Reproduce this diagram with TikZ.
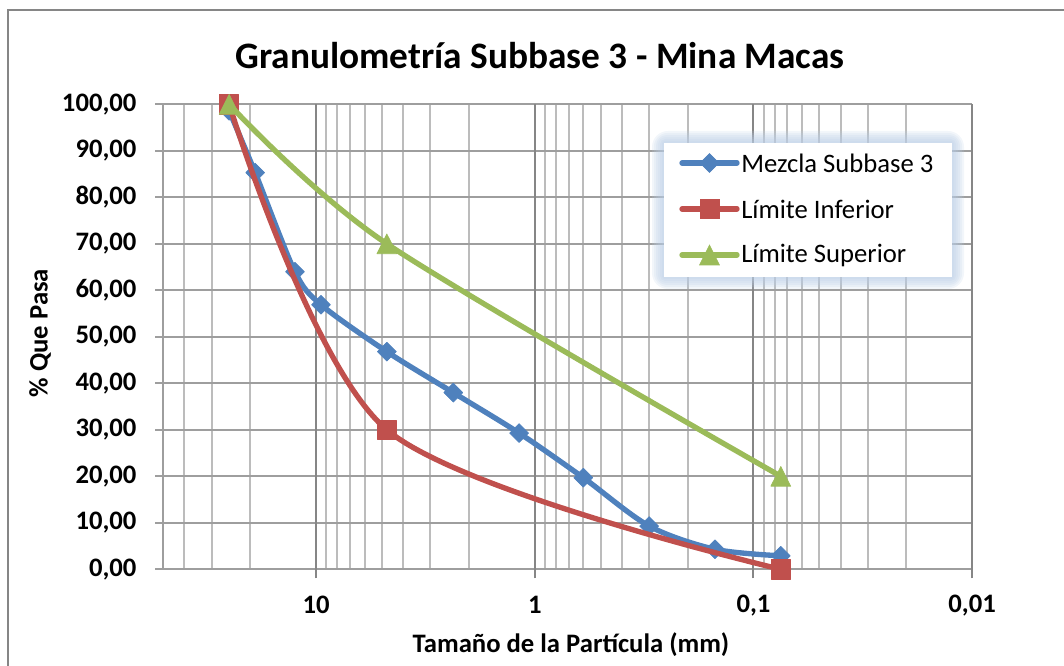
\documentclass[tikz,border=0pt]{standalone}
\usepackage{fontspec}
\setmainfont{Carlito}
\usetikzlibrary{positioning,plotmarks}

\definecolor{azulserie}{RGB}{79,129,189}
\definecolor{rojoserie}{RGB}{192,80,77}
\definecolor{verdeserie}{RGB}{155,187,89}
\definecolor{rejmenor}{RGB}{188,188,188}
\definecolor{rejmayor}{RGB}{134,134,134}
\definecolor{rejhoriz}{RGB}{158,158,158}
\definecolor{brillo}{RGB}{185,205,229}

\tikzset{
  menor/.style={draw=rejmenor, line width=1.5pt},
  mayor/.style={draw=rejmayor, line width=1.5pt},
  horiz/.style={draw=rejhoriz, line width=1.5pt},
  serie/.style={line width=4pt, line cap=round, line join=round},
  etiqueta/.style={font=\fontsize{20}{24}\selectfont\bfseries, inner sep=0pt},
  leyenda/.style={font=\fontsize{20}{24}\selectfont, inner sep=0pt},
  rombo/.style={mark=square*, mark size=5pt, mark options={rotate=45, fill=azulserie, draw=azulserie, line width=0.5pt}},
  cuadro/.style={mark=square*, mark size=7.2pt, mark options={fill=rojoserie, draw=rojoserie, line width=0.5pt}},
  triang/.style={mark=triangle*, mark size=8.6pt, mark options={yshift=-2.5pt, yscale=1.15, fill=verdeserie, draw=verdeserie, line width=0.5pt}}
}

\begin{document}
\begin{tikzpicture}[x=0.75pt, y=-0.75pt]
\useasboundingbox (0,0) rectangle (1064,666);
\clip (0,0) rectangle (1064,666);
% marco
\draw[mayor] (8,10) rectangle (1080,690);
\node[etiqueta, font=\fontsize{28}{32}\selectfont\bfseries] (titulo) at (540,56) {Granulometría Subbase 3 - Mina Macas};

% area del grafico: x = log10(50/d), y = % que pasa
\begin{scope}[shift={(163.3,569.3)}, x=164pt, y=3.4875pt]
  % rejilla
  \foreach \m in {2,3,4}
    \draw[menor] ({log10(50/(\m*10))},0) -- ++(0,100);
  \foreach \s in {1,0.1,0.01}
    \foreach \m in {2,...,9}
      \draw[menor] ({log10(50/(\m*\s))},0) -- ++(0,100);
  \foreach \p in {0,10,...,100} {
    \draw[horiz] (-0.0366,\p) -- (3.699,\p);
    \node[etiqueta, anchor=east] (y\p) at (-0.1216,\p) {\p,00};
  }
  \draw[horiz] (0,0) -- (0,100);
  \foreach \s/\t/\n in {10/10/a, 1/1/b, 0.1/{0,1}/c, 0.01/{0,01}/d} {
    \draw[mayor] ({log10(50/\s)},-1.94) -- ++(0,101.94);
    \node[etiqueta] (x\n) at ({log10(50/\s)},-7.74) {\t};
  }

  % curvas
  \draw[serie, azulserie] plot[smooth, tension=0.5, rombo] coordinates {
    (0.30103,98.6) (0.42022,85.3) (0.60206,64.0) (0.72125,56.9) (1.02228,46.8)
    (1.32604,38.0) (1.62709,29.3) (1.92082,19.7) (2.22185,9.3) (2.52288,4.3) (2.82391,2.9)};
  \draw[serie, rojoserie] plot[smooth, tension=0.5, cuadro] coordinates {
    (0.30103,100) (1.02228,30) (2.82391,0)};
  \draw[serie, verdeserie] plot[smooth, tension=0.5, triang] coordinates {
    (0.30103,100) (1.02228,70) (2.82391,20)};
\end{scope}

% leyenda
\foreach \g in {12,10,...,2}
  \fill[brillo, opacity=0.18, rounded corners=\g pt] ({664-\g},{143-\g}) rectangle ({952+\g},{277+\g});
\fill[white] (664,143) rectangle (952,277);
\draw[serie, azulserie] (682,163) -- (737,163);
\path plot[rombo] coordinates {(709.5,163)};
\node[leyenda, anchor=west] (leyazul) at (741,163) {Mezcla Subbase 3};
\draw[serie, rojoserie] (682,209) -- (737,209);
\path plot[cuadro] coordinates {(709.5,209)};
\node[leyenda, anchor=west] (leyrojo) at (741,209) {Límite Inferior};
\draw[serie, verdeserie] (682,255) -- (737,255);
\path plot[triang] coordinates {(709.5,255)};
\node[leyenda, anchor=west] (leyverde) at (741,255) {Límite Superior};

% titulos de ejes
\node[etiqueta, rotate=90] (ejey) at (40,333) {\% Que Pasa};
\node[etiqueta] (ejex) at (571,645) {Tamaño de la Partícula (mm)};
\end{tikzpicture}
\end{document}
